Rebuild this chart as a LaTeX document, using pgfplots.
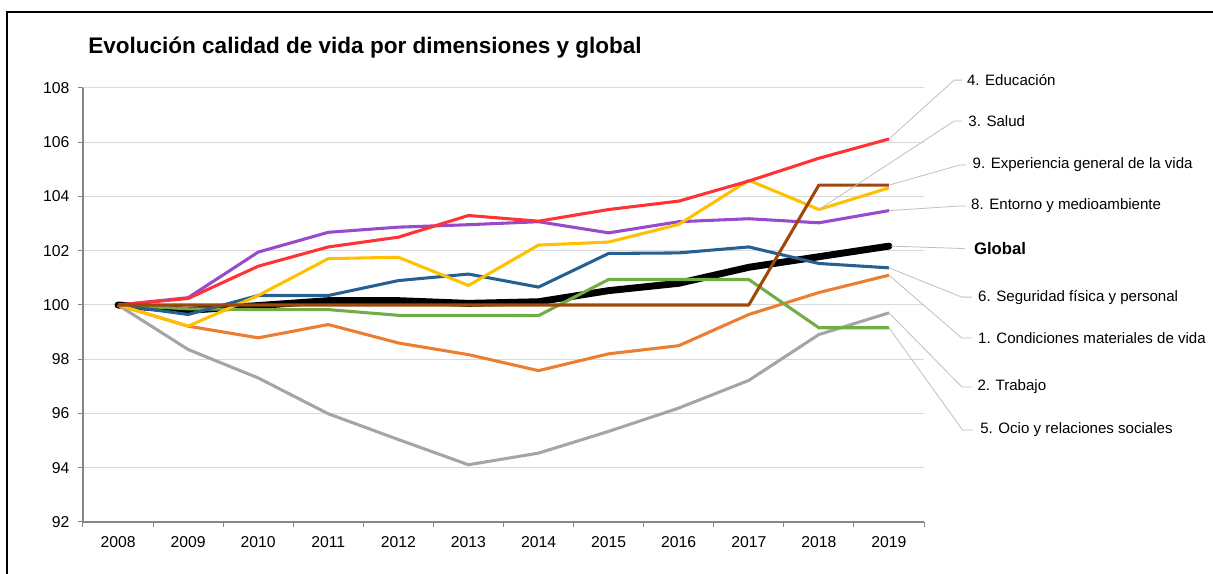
\documentclass[border=0pt]{standalone}
\usepackage{fontspec}
\setmainfont{Liberation Sans}
\usepackage{pgfplots}
\pgfplotsset{compat=1.18}
\usepackage{pgfplotstable}

\definecolor{cred}{RGB}{255,51,51}
\definecolor{cpur}{RGB}{150,75,205}
\definecolor{cyel}{RGB}{255,192,0}
\definecolor{cbro}{RGB}{158,72,14}
\definecolor{cblu}{RGB}{38,96,146}
\definecolor{cgre}{RGB}{112,173,71}
\definecolor{cora}{RGB}{237,125,49}
\definecolor{cgra}{RGB}{165,165,165}
\definecolor{gridgray}{RGB}{217,217,217}
\definecolor{axisgray}{RGB}{134,134,134}
\definecolor{leadgray}{RGB}{191,191,191}

\pgfplotstableread{
x glob red pur yel bro blu gre ora gra
0 100 100 100 100 100 100 100 100 100
1 99.80 100.24 100.27 99.22 100 99.65 99.86 99.22 98.36
2 99.98 101.43 101.95 100.35 100 100.35 99.83 98.79 97.31
3 100.16 102.14 102.68 101.71 100 100.35 99.83 99.28 95.99
4 100.16 102.50 102.87 101.76 100 100.90 99.62 98.60 95.04
5 100.06 103.30 102.96 100.72 100 101.14 99.62 98.17 94.11
6 100.12 103.09 103.07 102.21 100 100.66 99.61 97.58 94.54
7 100.53 103.52 102.66 102.32 100 101.90 100.94 98.20 95.34
8 100.80 103.83 103.07 102.97 100 101.92 100.94 98.50 96.20
9 101.39 104.57 103.18 104.60 100 102.14 100.94 99.65 97.22
10 101.78 105.41 103.03 103.52 104.42 101.53 99.16 100.46 98.91
11 102.17 106.12 103.48 104.32 104.42 101.37 99.16 101.10 99.71
}\data

\begin{document}
\begin{tikzpicture}[x=1pt,y=1pt]
\useasboundingbox (-62.25,-39) rectangle (847.5,391.5);
\begin{axis}[
  at={(0,0)}, anchor=south west,
  scale only axis, width=630.75pt, height=325.5pt,
  xmin=-0.5, xmax=11.5, ymin=92, ymax=108,
  ytick={92,94,...,108},
  xtick={-0.5,0.5,...,11.5},
  x tick label as interval,
  xticklabels={2008,2009,2010,2011,2012,2013,2014,2015,2016,2017,2018,2019},
  ymajorgrids,
  grid style={draw=gridgray, line width=0.75pt},
  axis x line*=bottom, axis y line*=left,
  axis line style={draw=axisgray, line width=0.9pt},
  tick align=outside, major tick length=3.75pt,
  tick style={draw=axisgray, line width=0.75pt},
  /pgf/number format/assume math mode=true,
  ticklabel style={font=\fontsize{11.8}{13}\selectfont},
  yticklabel style={xshift=-3pt},
  xticklabel style={yshift=-3.5pt},
  clip=false,
  every axis plot/.append style={line join=round},
]
\addplot[black, line width=5.2pt, line cap=round] table[x=x,y=glob]{\data};
\addplot[cgra, line width=2.3pt] table[x=x,y=gra]{\data};
\addplot[cora, line width=2.3pt] table[x=x,y=ora]{\data};
\addplot[cgre, line width=2.3pt] table[x=x,y=gre]{\data};
\addplot[cblu, line width=2.3pt] table[x=x,y=blu]{\data};
\addplot[cpur, line width=2.3pt] table[x=x,y=pur]{\data};
\addplot[cyel, line width=2.3pt] table[x=x,y=yel]{\data};
\addplot[cred, line width=2.3pt] table[x=x,y=red]{\data};
\addplot[cbro, line width=2.3pt] table[x=x,y=bro]{\data};

\tikzset{leader/.style={draw=leadgray, line width=0.6pt},
         lab/.style={anchor=west, inner sep=0pt, font=\fontsize{11.3}{13}\selectfont}}
% leaders
\draw[leader] (axis cs:11,106.12) -- (axis cs:11.93,108.29) -- (axis cs:12.04,108.29);
\node[lab] at (axis cs:12.11,108.29) {4. Educación};
\draw[leader] (axis cs:10,103.52) -- (axis cs:11.93,106.78) -- (axis cs:12.04,106.78);
\node[lab] at (axis cs:12.13,106.78) {3. Salud};
\draw[leader] (axis cs:11,104.42) -- (axis cs:12.01,105.16) -- (axis cs:12.10,105.16);
\node[lab] at (axis cs:12.19,105.16) {9. Experiencia general de la vida};
\draw[leader] (axis cs:11,103.48) -- (axis cs:12.01,103.65) -- (axis cs:12.10,103.65);
\node[lab] at (axis cs:12.17,103.65) {8. Entorno y medioambiente};
\draw[leader] (axis cs:11.03,102.17) -- (axis cs:12.08,102.08);
\node[lab, font=\bfseries\fontsize{12.5}{14}\selectfont] at (axis cs:12.21,102.08) {Global};
\draw[leader] (axis cs:11,101.37) -- (axis cs:12.04,100.29) -- (axis cs:12.18,100.29);
\node[lab] at (axis cs:12.27,100.29) {6. Seguridad física y personal};
\draw[leader] (axis cs:11,101.10) -- (axis cs:12.04,98.78) -- (axis cs:12.18,98.78);
\node[lab] at (axis cs:12.27,98.78) {1. Condiciones materiales de vida};
\draw[leader] (axis cs:11,99.71) -- (axis cs:12.04,96.98) -- (axis cs:12.18,96.98);
\node[lab] at (axis cs:12.26,96.98) {2. Trabajo};
\draw[leader] (axis cs:11,99.16) -- (axis cs:12.05,95.39) -- (axis cs:12.20,95.39);
\node[lab] at (axis cs:12.30,95.39) {5. Ocio y relaciones sociales};
\end{axis}
% title and frame (pixel (X,Y) -> ((X-83)*0.75, (522-Y)*0.75))
\node[anchor=west, inner sep=0pt, font=\bfseries\fontsize{16.9}{19}\selectfont] at (3.75,355.5) {Evolución calidad de vida por dimensiones y global};
\draw[black, line width=1.5pt] (-57,382.5) rectangle (860,-60);
\end{tikzpicture}
\end{document}
